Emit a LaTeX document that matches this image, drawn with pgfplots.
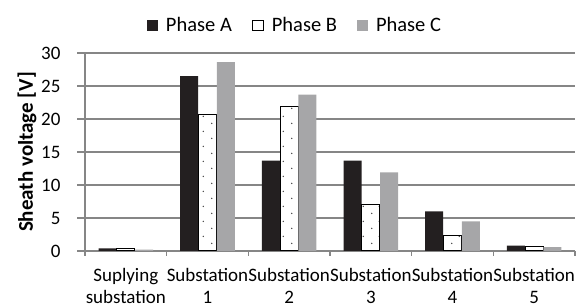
\documentclass[border=0pt]{standalone}
\usepackage{fontspec}
\setmainfont{Carlito}
\usepackage{pgfplots}
\usepackage{pgfplotstable}
\pgfplotsset{compat=1.18}
\usetikzlibrary{patterns}

\pgfdeclarepatternformonly{sparsedots}{\pgfqpoint{0pt}{0pt}}{\pgfqpoint{16pt}{15pt}}{\pgfqpoint{16pt}{15pt}}{%
  \pgfpathcircle{\pgfqpoint{4pt}{3.75pt}}{0.8pt}%
  \pgfpathcircle{\pgfqpoint{12pt}{11.25pt}}{0.8pt}%
  \pgfusepath{fill}}

\definecolor{phA}{HTML}{231F20}
\definecolor{phC}{HTML}{A6A6A8}
\definecolor{axgray}{HTML}{868686}
\definecolor{dotgray}{HTML}{404040}

\newcommand\tickfont{\fontsize{19}{21.7}\selectfont}
\newcommand\legfont{\fontsize{20.5}{24}\selectfont}
\newcommand\labfont{\fontsize{21}{24}\selectfont\bfseries}

\pgfplotstableread{
x A B C
0 0.4 0.4 0.2
1 26.5 20.7 28.6
2 13.7 21.9 23.7
3 13.7 7.0 11.9
4 6.0 2.4 4.5
5 0.8 0.7 0.6
}\data

\begin{document}
\begin{tikzpicture}
\useasboundingbox (0,0) rectangle (579pt,307pt);
\begin{axis}[
  at={(85pt,56pt)}, anchor=south west,
  scale only axis, width=490pt, height=198pt,
  ymin=0, ymax=30, ytick={0,5,...,30},
  xmin=-0.5, xmax=5.5,
  xtick={0,...,5},
  xticklabels={Suplying\\substation, Substation\\1, Substation\\2, Substation\\3, Substation\\4, Substation\\5},
  xticklabel style={align=center, font=\tickfont, yshift=-6pt},
  yticklabel style={font=\tickfont, xshift=-13pt},
  /pgf/number format/assume math mode=true,
  major x tick style={draw=none},
  minor xtick={-0.5,0.5,...,5.5},
  tick align=outside,
  tick pos=left,
  axis x line*=bottom, axis y line*=left,
  axis line style={axgray, line width=1.3pt},
  ymajorgrids, grid style={axgray, line width=1.3pt},
  major tick length=8pt, minor tick length=5pt,
  every tick/.style={axgray, line width=1.3pt},
  ybar=0.3pt, bar width=18pt,
  ylabel={Sheath voltage [V]},
  every axis y label/.style={at={(axis description cs:-0.1184,0.5)}, rotate=90, anchor=center, font=\labfont},
  legend style={at={(axis description cs:0.4265,1.14)}, anchor=center, draw=none, fill=none,
    font=\legfont, nodes={inner xsep=0pt, inner ysep=2pt},
    /tikz/every odd column/.append style={column sep=8pt},
    /tikz/every even column/.append style={column sep=20pt}},
  legend columns=-1,
  legend image code/.code={\draw[#1,draw=none] (0pt,-5.5pt) rectangle (11pt,5.5pt);},
]
\addplot[fill=phA, draw=none] table[x=x, y=A] {\data};
\addlegendentry{Phase A}
\addplot[fill=white, draw=black, line width=1.2pt, postaction={pattern=sparsedots, pattern color=dotgray},
  legend image code/.code={\draw[black, fill=white, line width=1.2pt] (0.6pt,-5pt) rectangle (11.4pt,5pt);}] table[x=x, y=B] {\data};
\addlegendentry{Phase B}
\addplot[fill=phC, draw=none] table[x=x, y=C] {\data};
\addlegendentry{Phase C}
\end{axis}
\end{tikzpicture}
\end{document}
